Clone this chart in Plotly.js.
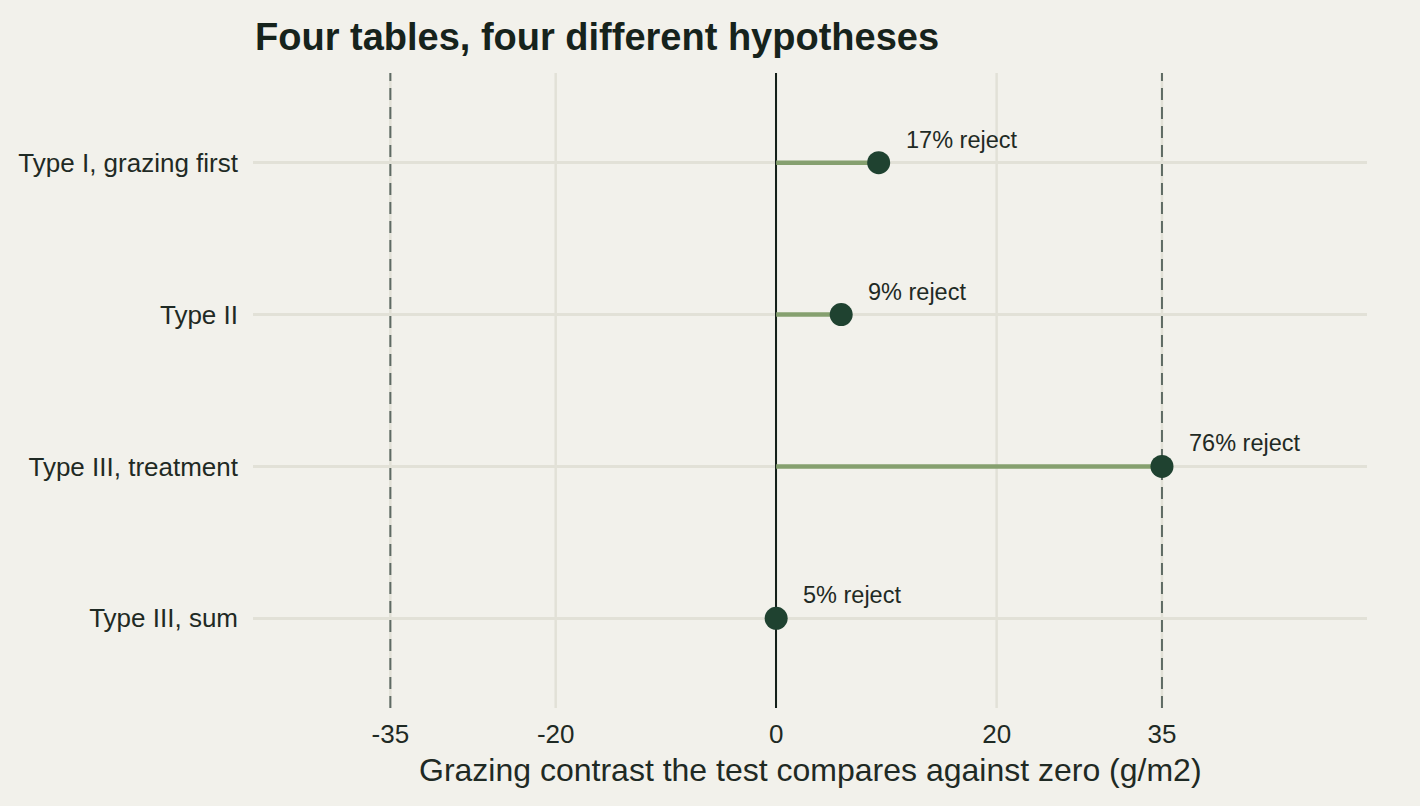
<!DOCTYPE html>
<html>
<head>
<meta charset="utf-8">
<script src="https://cdn.plot.ly/plotly-3.0.1.min.js"></script>
<style>html,body{margin:0;padding:0;background:#f2f1eb;}#chart{width:1420px;height:806px;}</style>
</head>
<body>
<div id="chart"></div>
<script>
const categories = ["Type I, grazing first", "Type II", "Type III, treatment", "Type III, sum"];
const contrasts = [9.3, 5.9, 35.0, 0.0];
const rejectLabels = ["17% reject", "9% reject", "76% reject", "5% reject"];
const refLines = [-35, 35];
const tickVals = [-35, -20, 0, 20, 35];
const tickText = ["-35", "-20", "0", "20", "35"];

const FONT = '"Liberation Sans", Arial, Helvetica, sans-serif';
const TXT = '#1f2a24';

const segX = [], segY = [];
categories.forEach((c, i) => { segX.push(0, contrasts[i], null); segY.push(c, c, null); });

const traces = [
  {type: 'scatter', mode: 'lines', x: segX, y: segY,
   line: {color: '#86a06f', width: 4.5}, hoverinfo: 'skip', showlegend: false},
  {type: 'scatter', mode: 'markers', x: contrasts, y: categories,
   marker: {color: '#1f4230', size: 23}, showlegend: false}
];

// vertical grid lines (drawn as shapes so the dashed reference lines can sit on top of them)
const gridShapes = tickVals.map(v => ({
  type: 'line', xref: 'x', yref: 'paper', x0: v, x1: v, y0: 0, y1: 1,
  line: {color: '#e2e1d7', width: 2.5}, layer: 'below'
}));
const refShapes = refLines.map(v => ({
  type: 'line', xref: 'x', yref: 'paper', x0: v, x1: v, y0: 0, y1: 1,
  line: {color: '#5f6b64', width: 2, dash: '12px,7px'}, layer: 'below'
}));

const annotations = categories.map((c, i) => ({
  x: contrasts[i], y: c, xref: 'x', yref: 'y', text: rejectLabels[i],
  showarrow: false, xanchor: 'left', yanchor: 'middle', xshift: 25, yshift: 23,
  font: {family: FONT, size: 23.5, color: TXT}
}));
annotations.push({
  xref: 'paper', yref: 'paper', x: 0.5, y: -(770 - 708) / 635,
  xanchor: 'center', yanchor: 'middle',
  text: 'Grazing contrast the test compares against zero (g/m2)', showarrow: false,
  font: {family: FONT, size: 32, color: TXT}
});

const layout = {
  width: 1420, height: 806,
  paper_bgcolor: '#f2f1eb', plot_bgcolor: '#f2f1eb',
  margin: {l: 253, r: 53, t: 73, b: 98},
  font: {family: FONT, color: TXT},
  title: {text: '<b>Four tables, four different hypotheses</b>', x: 255 / 1420, xanchor: 'left',
          y: 1 - 37 / 806, yanchor: 'middle', font: {family: FONT, size: 38, color: '#16231c'}},
  xaxis: {range: [-47.46, 53.6], tickvals: tickVals, ticktext: tickText,
          showgrid: false,
          zeroline: true, zerolinecolor: '#14201a', zerolinewidth: 2,
          showline: false, ticks: '', ticklabelstandoff: 8,
          tickfont: {family: FONT, size: 26, color: TXT}, fixedrange: true},
  yaxis: {type: 'category', categoryarray: categories, categoryorder: 'array',
          range: [3.59, -0.59], showgrid: true, gridcolor: '#e2e1d7', gridwidth: 2.5,
          zeroline: false, showline: false, ticks: '', ticklabelstandoff: 14,
          tickfont: {family: FONT, size: 26, color: TXT}, fixedrange: true},
  shapes: gridShapes.concat(refShapes),
  annotations: annotations,
  showlegend: false
};

Plotly.newPlot('chart', traces, layout, {displayModeBar: false, staticPlot: true});
</script>
</body>
</html>
